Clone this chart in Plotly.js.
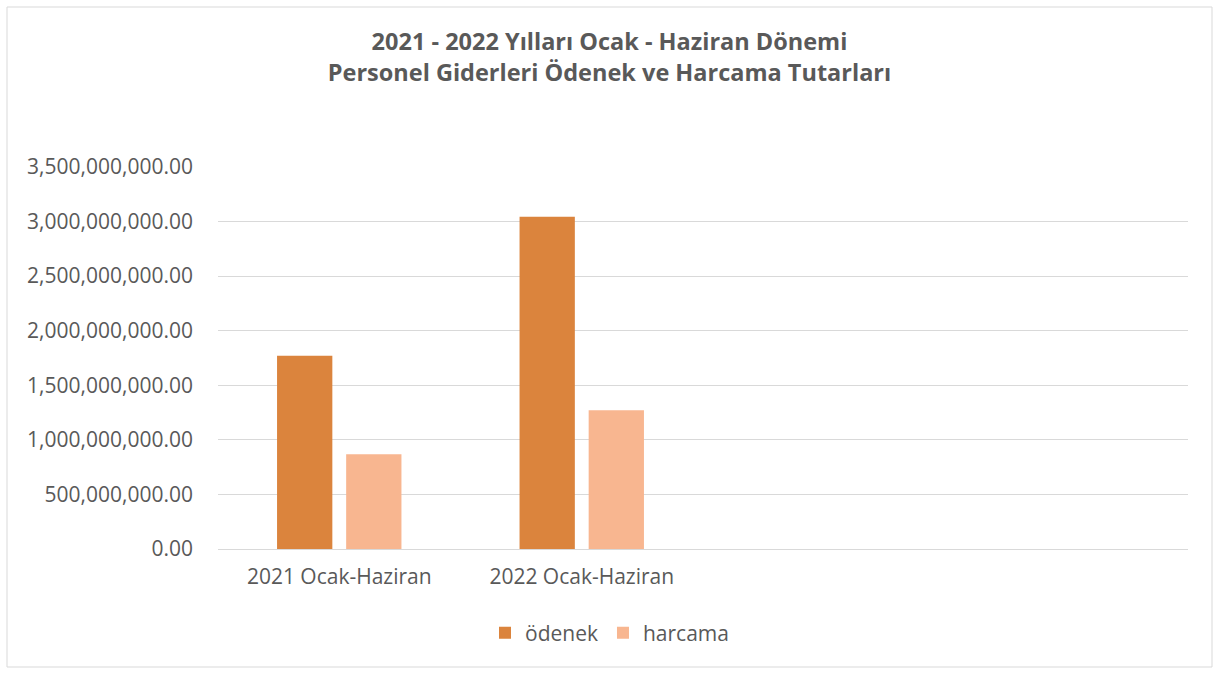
<!DOCTYPE html>
<html>
<head>
<meta charset="utf-8">
<script src="https://cdn.plot.ly/plotly-3.0.1.min.js"></script>
<style>
  html, body { margin: 0; padding: 0; background: #ffffff; }
  #chart { width: 1219px; height: 675px; }
</style>
</head>
<body>
<div id="chart"></div>
<script>
const categories = ["2021 Ocak-Haziran", "2022 Ocak-Haziran"];
const seriesNames = ["ödenek", "harcama"];
const odenek = [1771000000, 3045000000];
const harcama = [868000000, 1271000000];
const titleText = "2021 - 2022 Yılları Ocak - Haziran Dönemi<br>Personel Giderleri Ödenek ve Harcama Tutarları";

const FONT = "Open Sans, Liberation Sans, sans-serif";
const TXT = "#595959";

const traces = [
  { type: "bar", name: seriesNames[0], x: categories, y: odenek,
    marker: { color: "#DB843D" }, hoverinfo: "x+y" },
  { type: "bar", name: seriesNames[1], x: categories, y: harcama,
    marker: { color: "#F8B690" }, hoverinfo: "x+y" }
];

const layout = {
  width: 1219, height: 675,
  margin: { l: 218, r: 31, t: 167, b: 126 },
  paper_bgcolor: "#ffffff", plot_bgcolor: "#ffffff",
  font: { family: FONT, color: TXT, size: 21 },
  title: {
    text: titleText,
    font: { family: FONT, size: 23.5, color: TXT, weight: "bold" },
    x: 0.5, xref: "container", xanchor: "center",
    y: 1 - 50 / 675, yref: "container", yanchor: "middle"
  },
  barmode: "group",
  bargap: 0.43,
  bargroupgap: 0.2,
  xaxis: {
    type: "category",
    range: [-0.5, 3.5],
    showgrid: false, zeroline: false, showline: false,
    ticks: "", ticklabelstandoff: 13,
    tickfont: { family: FONT, size: 21, color: TXT }
  },
  yaxis: {
    range: [0, 3500000000],
    dtick: 500000000,
    tickformat: ",.2f",
    showgrid: true, gridcolor: "#D9D9D9", gridwidth: 1,
    zeroline: true, zerolinecolor: "#D9D9D9", zerolinewidth: 1,
    showline: false, ticks: "", ticklabelstandoff: 24,
    tickfont: { family: FONT, size: 21, color: TXT }
  },
  legend: {
    orientation: "h",
    x: 0.5, xref: "container", xanchor: "center",
    y: 1 - 633 / 675, yref: "container", yanchor: "middle",
    font: { family: FONT, size: 21, color: TXT },
    itemwidth: 30
  },
  shapes: [{
    type: "rect", xref: "paper", yref: "paper",
    x0: (7 - 218) / 970, x1: (1212 - 218) / 970,
    y0: (549 - 667) / 382, y1: (549 - 7) / 382,
    line: { color: "#D9D9D9", width: 1 }, fillcolor: "rgba(0,0,0,0)", layer: "below"
  }],
  showlegend: true
};

Plotly.newPlot("chart", traces, layout, { displayModeBar: false, staticPlot: true });
</script>
</body>
</html>
